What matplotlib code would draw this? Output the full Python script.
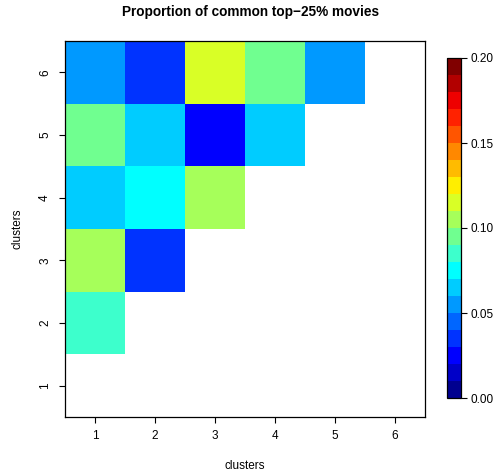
import numpy as np
import matplotlib
matplotlib.use("Agg")
import matplotlib.pyplot as plt
from matplotlib.colors import ListedColormap, BoundaryNorm

plt.rcParams["font.family"] = ["Liberation Sans", "DejaVu Sans"]

# proportion of shared top-25% movies between cluster pairs (row y, column x < y)
clusters = [1, 2, 3, 4, 5, 6]
row2 = [0.085]
row3 = [0.105, 0.035]
row4 = [0.065, 0.075, 0.105]
row5 = [0.095, 0.065, 0.025, 0.065]
row6 = [0.055, 0.035, 0.115, 0.095, 0.055]
rows = {2: row2, 3: row3, 4: row4, 5: row5, 6: row6}

# 20-step palette from dark blue to dark red
palette = ["#00008F", "#0000C8", "#0000FF", "#0033FF", "#0066FF",
           "#0099FF", "#00CCFF", "#00FFFF", "#3DFFCC", "#70FF90",
           "#A6FF5A", "#D9FF26", "#FFEE00", "#FFBB00", "#FF8800",
           "#FF5500", "#FF2200", "#EE0000", "#B20000", "#800000"]
levels = np.linspace(0, 0.2, 21)
cbar_ticks = [0.00, 0.05, 0.10, 0.15, 0.20]

n = len(clusters)
mat = np.full((n, n), np.nan)
for y, vals in rows.items():
    for x, v in enumerate(vals):
        mat[y - 1, x] = v

cmap = ListedColormap(palette)
norm = BoundaryNorm(levels, cmap.N)

fig = plt.figure(figsize=(5.01, 4.73), dpi=100)
ax = fig.add_axes([65 / 501, 1 - 417 / 473, 360 / 501, 376 / 473])
edges = np.arange(0.5, n + 1, 1)
ax.pcolormesh(edges, edges, np.ma.masked_invalid(mat), cmap=cmap, norm=norm)
ax.set_xlim(0.5, 6.5)
ax.set_ylim(0.5, 6.5)
ax.set_xticks(clusters)
ax.set_yticks(clusters)
ax.set_xticklabels([str(c) for c in clusters], fontsize=8.5)
ax.set_yticklabels([str(c) for c in clusters], fontsize=8.5, rotation=90, va="center")
ax.tick_params(axis="x", length=4.5, width=0.8, pad=5)
ax.tick_params(axis="y", length=4.5, width=0.8, pad=5.5)
for s in ax.spines.values():
    s.set_linewidth(0.9)
ax.set_xlabel("clusters", fontsize=8.5, labelpad=12.5)
ax.set_ylabel("clusters", fontsize=8.5, labelpad=11)
fig.text(0.5, 1 - 12 / 473, "Proportion of common top\u221225% movies",
         ha="center", va="center", fontsize=9.8, fontweight="bold")

cax = fig.add_axes([447 / 501, 1 - 398 / 473, 14 / 501, 340 / 473])
sm = plt.cm.ScalarMappable(cmap=cmap, norm=norm)
cb = fig.colorbar(sm, cax=cax, ticks=cbar_ticks, format="%.2f")
cb.minorticks_off()
cb.outline.set_linewidth(0.9)
cax.tick_params(length=4, width=0.8, labelsize=8.5, pad=3)

fig.savefig("out.png", dpi=100)
